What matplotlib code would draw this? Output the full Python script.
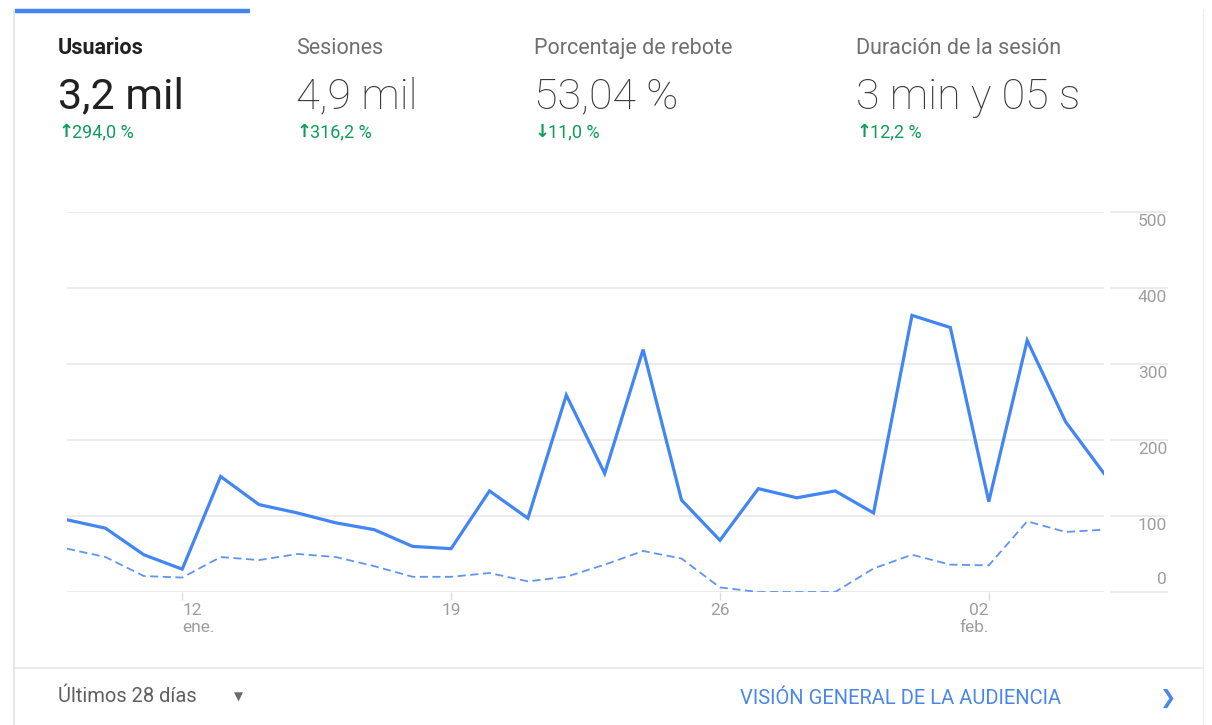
import matplotlib
matplotlib.use("Agg")
import matplotlib.pyplot as plt
import matplotlib.transforms as mtransforms
import pandas as pd

plt.rcParams['font.family'] = ['Roboto', 'DejaVu Sans']

# --- data ---
dias = pd.date_range("2018-01-09", "2018-02-05", freq="D")
usuarios = [95, 84, 49, 30, 152, 115, 104, 91, 82, 60, 57, 133, 97, 259,
            156, 319, 121, 68, 136, 124, 133, 104, 364, 348, 119, 331, 224, 156]
usuarios_anterior = [57, 46, 21, 19, 46, 42, 50, 46, 34, 20, 20, 25, 14, 20,
                     36, 54, 44, 6, 0, 0, 0, 31, 49, 36, 35, 93, 79, 82]

tick_dias = pd.to_datetime(["2018-01-12", "2018-01-19", "2018-01-26", "2018-02-02"])
tick_labels = ["12\nene.", "19", "26", "02\nfeb."]
y_ticks = [0, 100, 200, 300, 400, 500]

metricas = ["Usuarios", "Sesiones", "Porcentaje de rebote", "Duración de la sesión"]
valores = ["3,2 mil", "4,9 mil", "53,04 %", "3 min y 05 s"]
flechas = ["↑", "↑", "↓", "↑"]
cambios = ["294,0 %", "316,2 %", "11,0 %", "12,2 %"]

W, H = 1212, 725
fig = plt.figure(figsize=(W / 100, H / 100), dpi=100)

# card / text layer in pixel coordinates
bg = fig.add_axes([0, 0, 1, 1], zorder=0)
bg.set_xlim(0, W)
bg.set_ylim(H, 0)
bg.axis('off')

bg.plot([14, 14], [10, H], color='#e3e3e3', lw=1.2)
bg.plot([1203, 1203], [10, H], color='#ececec', lw=1.0)
bg.plot([14, 1203], [668, 668], color='#e6e6e6', lw=1.2)
bg.plot([15, 250], [11, 11], color='#4285f4', lw=3.2, solid_capstyle='butt')

col_x = [58, 296, 534, 856]
for i, (m, v, f, c) in enumerate(zip(metricas, valores, flechas, cambios)):
    sel = i == 0
    bg.text(col_x[i], 48, m, fontsize=15.5, color='#212121' if sel else '#6f6f6f',
            fontweight='bold' if sel else 'normal', va='center', ha='left')
    bg.text(col_x[i], 97, v, fontsize=31, color='#212121' if sel else '#383838',
            fontweight='normal' if sel else 'light', va='center', ha='left')
    bg.text(col_x[i] + 1, 132, f, fontsize=13, color='#0f9d58', fontweight='bold',
            va='center', ha='left', family=['DejaVu Sans'])
    bg.text(col_x[i] + 14, 132, c, fontsize=13, color='#0f9d58', va='center', ha='left')

bg.text(58, 697, "Últimos 28 días", fontsize=14.5, color='#5f5f5f', va='center', ha='left')
bg.text(234, 697, "▼", fontsize=8.5, color='#6a6a6a', va='center', ha='left',
        family=['DejaVu Sans'])
bg.text(740, 698, "VISIÓN GENERAL DE LA AUDIENCIA", fontsize=14.5, color='#4a86e8',
        va='center', ha='left')
bg.text(1159, 698, "❯", fontsize=14, color='#4a86e8', va='center', ha='left',
        family=['DejaVu Sans'])

# chart
ax = fig.add_axes([67 / W, (H - 592) / H, (1104 - 67) / W, (592 - 212) / H], zorder=1)
ax.patch.set_alpha(0)
ax.set_xlim(dias[0], dias[-1])
ax.set_ylim(0, 500)
for s in ax.spines.values():
    s.set_visible(False)

trans = mtransforms.blended_transform_factory(ax.transAxes, ax.transData)
for yv in y_ticks:
    ax.axhline(yv, color='#e6e6e6', lw=1.1, zorder=0)
    ax.plot([1.0068, 1.0608], [yv, yv], transform=trans, color='#e6e6e6',
            lw=1.1, clip_on=False)
    off = 12 if yv == 0 else -10
    ax.annotate(str(yv), xy=(1.0608, yv), xycoords=trans, xytext=(0, off),
                textcoords='offset pixels', ha='right', va='center',
                fontsize=12.5, color='#9e9e9e')
ax.set_yticks([])

ax.plot(dias, usuarios_anterior, color='#5e95f2', lw=1.3, dashes=(4.5, 2.5), zorder=2)
ax.plot(dias, usuarios, color='#4285f4', lw=2.3, zorder=3, solid_joinstyle='miter')

ax.set_xticks(tick_dias)
ax.set_xticklabels(tick_labels, fontsize=12.5, color='#9e9e9e', linespacing=1.15)
ax.tick_params(axis='x', length=6, width=1, color='#dcdcdc', pad=2)
lbls = ax.get_xticklabels()
lbls[0].set_ha('left')
lbls[-1].set_ha('right')

fig.savefig("out.png", dpi=100, facecolor='white')
